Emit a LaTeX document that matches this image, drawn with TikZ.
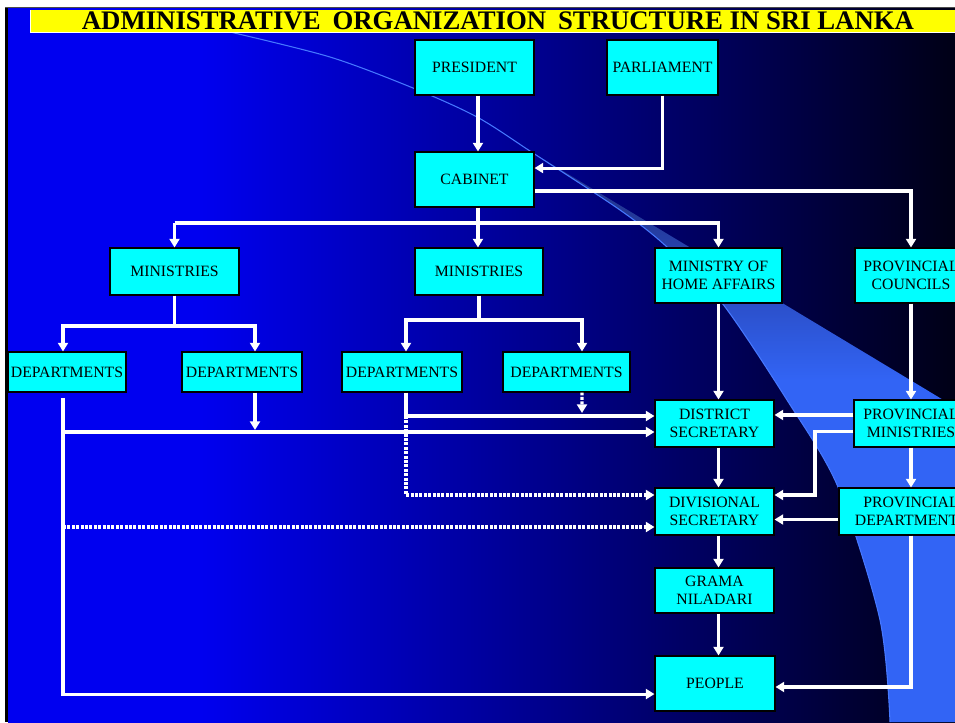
\documentclass[tikz,border=0pt]{standalone}
\usepackage{graphicx}
\usepackage{fontspec}
\setmainfont{Liberation Serif}
\usetikzlibrary{arrows.meta,calc}
\definecolor{bgA}{RGB}{0,0,240}
\definecolor{bgB}{RGB}{0,0,22}
\definecolor{bandA}{RGB}{35,55,150}
\definecolor{bandB}{RGB}{50,100,245}
\definecolor{edgec}{RGB}{70,120,255}
\definecolor{boxc}{RGB}{0,255,255}
\definecolor{titlec}{RGB}{255,255,0}
\pgfdeclarehorizontalshading{bgsh}{100bp}{color(0bp)=(bgA); color(25bp)=(bgA); color(35bp)=(bgA); color(75bp)=(bgB); color(100bp)=(bgB)}
\pgfdeclareverticalshading{bandsh}{100bp}{color(0bp)=(bandB); color(25bp)=(bandB); color(55bp)=(bandB); color(70bp)=(bandA); color(75bp)=(bandA); color(100bp)=(bandA)}
\begin{document}
\begin{tikzpicture}[x=0.75pt,y=-0.75pt,
  bx/.style={draw=black, fill=boxc, line width=0.8pt, align=center, inner sep=0pt,
     font=\fontsize{11.8}{13.9}\selectfont, text=black},
  conn/.style={draw=white, line width=2.3pt, -{Triangle[width=7.5pt,length=6.5pt]}},
  plain/.style={draw=white, line width=2.3pt},
  conndot/.style={conn, dash pattern=on 2.2pt off 1.1pt}]
\useasboundingbox (0,0) rectangle (955,722);
\fill[white] (0,0) rectangle (955,722);
\shade[shading=bgsh] (8,8) rectangle (955,722);
\fill[black] (5,7) rectangle (8,722);
\fill[black!70] (5,7) rectangle (955,8);
% light band
\shade[shading=bandsh] plot[smooth] coordinates {(533,153) (620,210) (667,247) (722,303) (787,400) (838,487) (880,620) (890,722)} -- (955,722) -- (955,407) -- cycle;
\draw[edgec, line width=0.8pt] plot[smooth] coordinates {(230,32) (330,57) (413,88) (477,117) (533,153) (620,210) (667,247) (722,303) (787,400) (838,487) (880,620) (890,722)};
% title
\fill[titlec] (30,10) rectangle (955,32);
\draw[white, line width=0.75pt] (30,10) -- (30,32) -- (955,32);
\node[inner sep=0pt, text=black] (title) at (498,20.5) {\resizebox{624pt}{13.3pt}{\bfseries ADMINISTRATIVE\hspace{0.45em}ORGANIZATION\hspace{0.45em}STRUCTURE IN SRI LANKA}};
% boxes
\node[bx, minimum width=89.25pt, minimum height=41.25pt] (pres) at (474.5,67.5) {PRESIDENT};
\node[bx, minimum width=83.25pt, minimum height=41.25pt] (parl) at (662.5,67.5) {PARLIAMENT};
\node[bx, minimum width=89.25pt, minimum height=41.25pt] (cab) at (474.5,179.5) {CABINET};
\node[bx, minimum width=96.75pt, minimum height=35.25pt] (min1) at (174.5,271.5) {MINISTRIES};
\node[bx, minimum width=96pt, minimum height=35.25pt] (min2) at (479,271.5) {MINISTRIES};
\node[bx, minimum width=95.25pt, minimum height=41.25pt] (moha) at (718.5,275.5) {MINISTRY OF\\HOME AFFAIRS};
\node[bx, minimum width=84pt, minimum height=41.25pt] (pc) at (911,275.5) {PROVINCIAL\\COUNCILS};
\node[bx, minimum width=88.5pt, minimum height=30pt] (dep1) at (67,372) {DEPARTMENTS};
\node[bx, minimum width=90pt, minimum height=30pt] (dep2) at (242,372) {DEPARTMENTS};
\node[bx, minimum width=90pt, minimum height=30pt] (dep3) at (402,372) {DEPARTMENTS};
\node[bx, minimum width=95.25pt, minimum height=30pt] (dep4) at (566.5,372) {DEPARTMENTS};
\node[bx, minimum width=89.25pt, minimum height=35.25pt] (ds) at (714.5,423.5) {DISTRICT\\SECRETARY};
\node[bx, minimum width=85.5pt, minimum height=35.25pt] (pm) at (911,423.5) {PROVINCIAL\\MINISTRIES};
\node[bx, minimum width=89.25pt, minimum height=35.25pt] (dvs) at (714.5,511.5) {DIVISIONAL\\SECRETARY};
\node[bx, minimum width=108pt, minimum height=35.25pt] (pd) at (911,511.5) {PROVINCIAL\\DEPARTMENTS};
\node[bx, minimum width=89.25pt, minimum height=33.75pt] (gn) at (714.5,590.5) {GRAMA\\NILADARI};
\node[bx, minimum width=90pt, minimum height=41.25pt] (ppl) at (715,683.5) {PEOPLE};
% junction coordinates
\coordinate (b1) at (174.5,223);
\coordinate (b2) at (174.5,326);
\coordinate (b3) at (479,320);
\coordinate (j1) at (406,416);
\coordinate (j2) at (406,495);
\coordinate (j3) at (582,413);
\coordinate (l1) at (63,398);
\coordinate (l3) at (63,432);
\coordinate (l4) at (63,527);
\coordinate (k1) at (815,431.5);
\coordinate (k2) at (815,495);
% connectors
\draw[conn] ([xshift=2.6pt]pres.south) -- ([xshift=2.6pt]cab.north);
\draw[conn] (parl.south) |- ([yshift=8.6pt]cab.east);
\draw[conn] ([yshift=-8.6pt]cab.east) -| (pc.north);
\draw[conn] ([xshift=2.6pt]cab.south) -- ([xshift=2.6pt]cab.south |- min2.north);
\draw[conn] (b1) -- (min1.north);
\draw[conn] (b1) -| (moha.north);
\draw[plain] (min1.south) -- (b2);
\draw[conn] (b2) -| ([xshift=-3pt]dep1.north);
\draw[conn] (b2) -| ([xshift=9.75pt]dep2.north);
\draw[plain] (min2.south) -- (b3);
\draw[conn] (b3) -| ([xshift=3pt]dep3.north);
\draw[conn] (b3) -| ([xshift=11.6pt]dep4.north);
\draw[conn] ([xshift=3pt]dep3.south) -- (j1) -- (j1 -| ds.west);
\draw[conndot] (j1) -- (j2) -- (j2 -| dvs.west);
\draw[conndot] ([xshift=11.6pt]dep4.south) -- (j3);
\draw[conn] (l1) |- ([yshift=-7.9pt]ppl.west);
\draw[conn] (l3) -- (l3 -| ds.west);
\draw[conn] ([xshift=9.75pt]dep2.south) -- ([xshift=9.75pt]dep2.south |- 0,430);
\draw[conndot] (l4) -- (l4 -| dvs.west);
\draw[conn] (moha.south) -- (moha.south |- ds.north);
\draw[conn] (moha.south |- ds.south) -- (moha.south |- dvs.north);
\draw[conn] (moha.south |- dvs.south) -- (moha.south |- gn.north);
\draw[conn] (moha.south |- gn.south) -- (moha.south |- ppl.north);
\draw[conn] (pc.south) -- (pm.north);
\draw[conn] ([yshift=6.4pt]pm.west) -- ([yshift=6.4pt]ds.east);
\draw[conn] ([yshift=-6pt]pm.west) -- (k1) -- (k2) -- (k2 -| dvs.east);
\draw[conn] (pm.south) -- (pd.north);
\draw[conn] ([yshift=-6pt]pd.west) -- ([yshift=-6pt]dvs.east);
\draw[conn] (pd.south) |- ([yshift=-2.6pt]ppl.east);
\end{tikzpicture}
\end{document}
